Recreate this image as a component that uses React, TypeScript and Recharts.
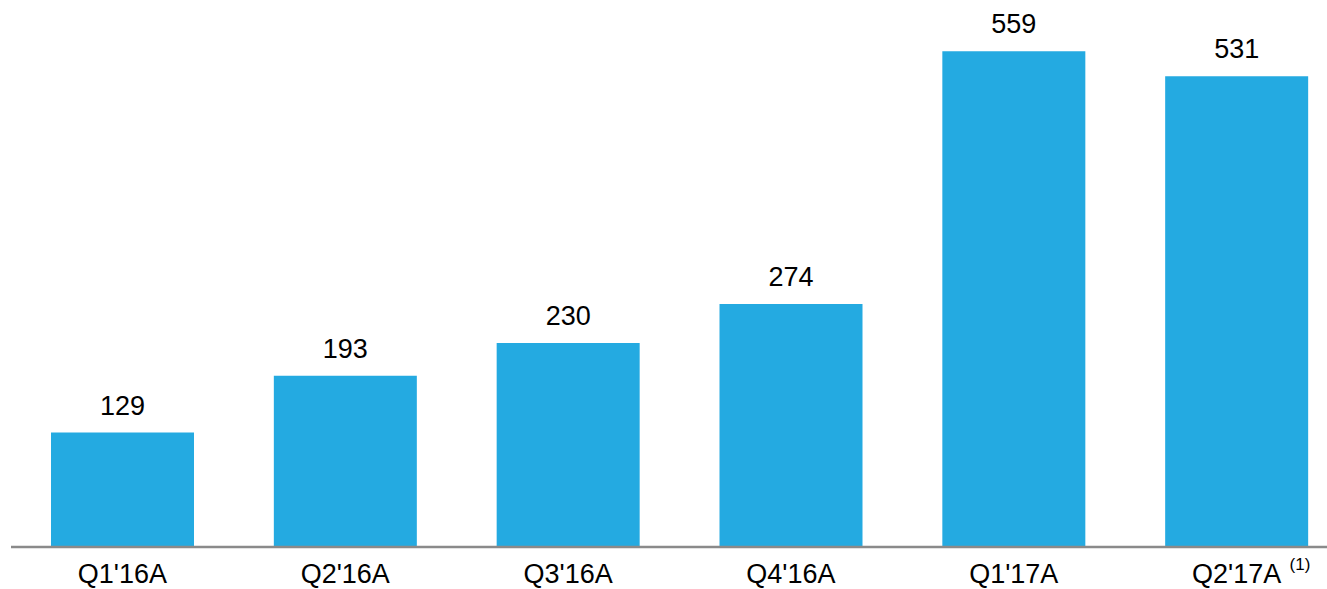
import { BarChart, Bar, XAxis, YAxis, LabelList } from 'recharts';

const quarters = ["Q1'16A", "Q2'16A", "Q3'16A", "Q4'16A", "Q1'17A", "Q2'17A"];
const values = [129, 193, 230, 274, 559, 531];
const footnotes = ['', '', '', '', '', '(1)'];

const data = quarters.map((q, i) => ({ q, v: values[i], note: footnotes[i] }));

const FONT = '"Liberation Sans", Arial, sans-serif';

const QuarterTick = ({ x, y, payload, index }: any) => {
  const note = footnotes[index];
  return (
    <g transform={`translate(${x},${y})`}>
      <text x={0} y={28} textAnchor="middle" fontSize={27} fill="#000" fontFamily={FONT}>
        {payload.value}
      </text>
      {note ? (
        <text x={53} y={15} textAnchor="start" fontSize={17} fill="#000" fontFamily={FONT}>
          {note}
        </text>
      ) : null}
    </g>
  );
};

export default function App() {
  return (
    <div style={{ position: 'absolute', left: 0, top: 0, width: 1327, height: 589, overflow: 'hidden', background: '#fff' }}>
      <BarChart
        width={1348}
        height={589}
        data={data}
        margin={{ top: 15, right: 0, left: 11, bottom: 0 }}
        barSize={143}
      >
        <XAxis
          dataKey="q"
          height={42}
          axisLine={{ stroke: '#8A8A8A', strokeWidth: 2.5 }}
          tickLine={false}
          interval={0}
          tick={<QuarterTick />}
        />
        <YAxis hide domain={[0, 600]} />
        <Bar dataKey="v" fill="#24AAE1" isAnimationActive={false}>
          <LabelList
            dataKey="v"
            position="top"
            offset={18}
            fill="#000"
            fontSize={27}
            fontFamily={FONT}
          />
        </Bar>
      </BarChart>
    </div>
  );
}
